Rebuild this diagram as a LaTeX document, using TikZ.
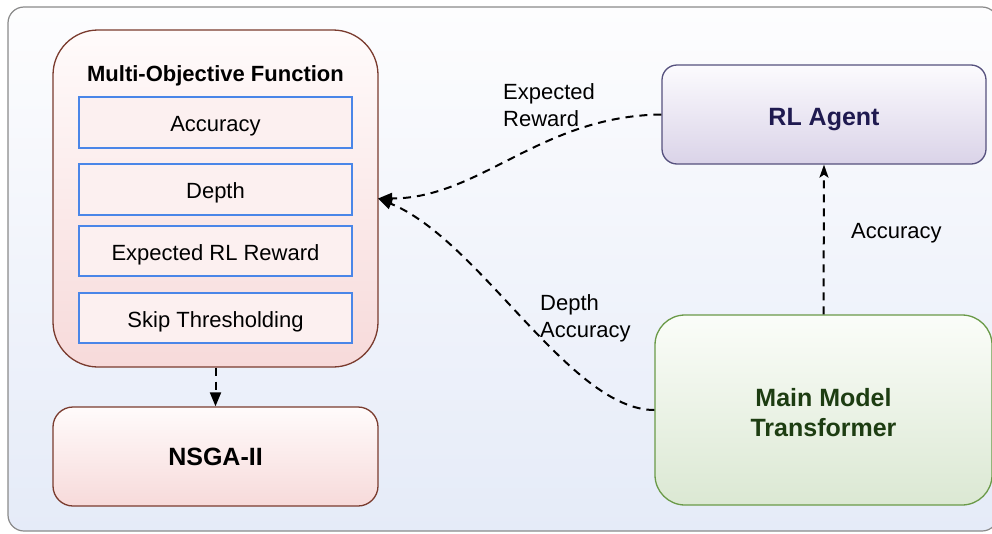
\documentclass[tikz,border=0pt]{standalone}
\usepackage{fontspec}
\setmainfont{Liberation Sans}
\usetikzlibrary{arrows.meta}
\definecolor{frameline}{HTML}{8A8A8A}
\definecolor{frametop}{HTML}{FDFDFE}
\definecolor{framebot}{HTML}{E5EBF8}
\definecolor{moline}{HTML}{7A3B2E}
\definecolor{motop}{HTML}{FFFBFB}
\definecolor{mobot}{HTML}{F7DADA}
\definecolor{innerline}{HTML}{4A86E8}
\definecolor{innerfill}{HTML}{FCF0F0}
\definecolor{rlline}{HTML}{56517E}
\definecolor{rltop}{HTML}{FCFBFE}
\definecolor{rlbot}{HTML}{DAD3E8}
\definecolor{rltext}{HTML}{1F1A50}
\definecolor{mmline}{HTML}{6A9A48}
\definecolor{mmtop}{HTML}{FBFDF9}
\definecolor{mmbot}{HTML}{DBE8D3}
\definecolor{mmtext}{HTML}{1D3D12}
\tikzset{
  bigbox/.style={rectangle, line width=1.3pt, inner sep=0pt},
  innerbox/.style={rectangle, draw=innerline, line width=2pt, fill=innerfill,
    minimum width=273pt, inner sep=0pt, text height=22pt, text depth=4pt,
    font=\fontsize{22}{26}\selectfont},
  lbl/.style={anchor=west, align=left, inner sep=0pt, font=\fontsize{22}{27}\selectfont},
  conn/.style={draw=black, line width=2pt, dash pattern=on 8pt off 6pt},
  tipA/.style={-{Triangle[length=14pt,width=11pt]}},
  tipS/.style={-{Stealth[length=13pt,width=9pt,inset=3pt]}}
}
\begin{document}
\begin{tikzpicture}[x=1pt,y=-1pt]
\useasboundingbox (0,0) rectangle (992,533);
% background frame
\path[draw=frameline, line width=1.2pt, rounded corners=16pt,
  top color=frametop, bottom color=framebot] (8,7) rectangle (998,531);
% Multi-objective box
\node[bigbox, draw=moline, top color=motop, bottom color=mobot,
  rounded corners=45pt, minimum width=325pt, minimum height=337pt] (mo) at (215.5,198.5) {};
\node[font=\fontsize{22}{26}\selectfont\bfseries, inner sep=0pt,
  text height=22pt, text depth=4pt] (motitle) at (215.5,72.5) {Multi-Objective Function};
\node[innerbox, minimum height=51pt] (acc) at (215.5,122.5) {Accuracy};
\node[innerbox, minimum height=51pt] (dep) at (215.5,189.5) {Depth};
\node[innerbox, minimum height=50pt] (err) at (215.5,251) {Expected RL Reward};
\node[innerbox, minimum height=50pt] (skip) at (215.5,318) {Skip Thresholding};
% NSGA
\node[bigbox, draw=moline, top color=motop, bottom color=mobot,
  rounded corners=20pt, minimum width=325pt, minimum height=99pt,
  font=\fontsize{25}{30}\selectfont\bfseries] (nsga) at (215.5,456.5) {NSGA-II};
% RL agent
\node[bigbox, draw=rlline, top color=rltop, bottom color=rlbot,
  rounded corners=15pt, minimum width=324pt, minimum height=99pt,
  text height=25pt, text depth=4pt,
  text=rltext, font=\fontsize{25}{30}\selectfont\bfseries] (rl) at (824,114.5) {RL Agent};
% Main model
\node[bigbox, draw=mmline, top color=mmtop, bottom color=mmbot,
  rounded corners=30pt, minimum width=337pt, minimum height=190pt,
  text=mmtext, align=center, font=\fontsize{25}{30}\selectfont\bfseries] (mm) at (823.5,410)
  {\rule{0pt}{24pt}Main Model\\Transformer};
% connectors
\coordinate (moin) at (378,198.5);
\draw[conn, tipA] (rl.west) .. controls (540,116) and (480,198.5) .. (moin);
\draw[conn, tipA] (mm.west) .. controls (570,410) and (480,240) .. (moin);
\draw[conn, tipS] (mm.north) -- (rl.south);
\draw[conn, tipA] (mo.south) -- (nsga.north);
% labels
\node[lbl] (l1) at (503,105.5) {Expected\\Reward};
\node[lbl] (l2) at (851,233) {Accuracy};
\node[lbl] (l3) at (540,318) {Depth\\Accuracy};
\end{tikzpicture}
\end{document}
